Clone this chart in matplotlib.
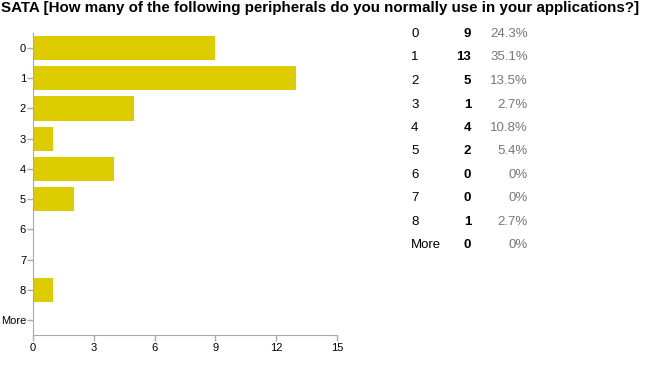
import matplotlib
matplotlib.use("Agg")
import matplotlib.pyplot as plt
import numpy as np

plt.rcParams["font.family"] = ["Liberation Sans", "DejaVu Sans"]

TITLE = "SATA [How many of the following peripherals do you normally use in your applications?]"
categories = ["0", "1", "2", "3", "4", "5", "6", "7", "8", "More"]
counts = [9, 13, 5, 1, 4, 2, 0, 0, 1, 0]
percents = ["24.3%", "35.1%", "13.5%", "2.7%", "10.8%", "5.4%", "0%", "0%", "2.7%", "0%"]
x_ticks = [0, 3, 6, 9, 12, 15]

BAR_COLOR = "#ddcd00"
AXIS_COLOR = "#aaaaaa"

fig = plt.figure(figsize=(6.5, 3.7), dpi=100)
ax = fig.add_axes([33 / 650, 1 - 335 / 370, 304 / 650, 302 / 370])

y = np.arange(len(categories))
ax.barh(y, counts, height=0.8, color=BAR_COLOR)
ax.set_ylim(len(categories) - 0.5, -0.5)
ax.set_xlim(0, 15)
ax.set_yticks(y)
ax.set_yticklabels(categories)
ax.set_xticks(x_ticks)
ax.tick_params(axis="both", colors=AXIS_COLOR, labelcolor="black", labelsize=8,
               length=4, width=1)
ax.tick_params(axis="y", pad=1)
ax.tick_params(axis="x", pad=2)
for side in ["top", "right"]:
    ax.spines[side].set_visible(False)
for side in ["left", "bottom"]:
    ax.spines[side].set_color(AXIS_COLOR)

fig.text(1 / 650, 1 - 8 / 370, TITLE, fontsize=10.9, fontweight="bold",
         ha="left", va="center")

# summary table on the right
for i, (cat, n, pct) in enumerate(zip(categories, counts, percents)):
    yy = 1 - (34 + i * 23.5) / 370
    fig.text(411 / 650, yy, cat, fontsize=9.5, ha="left", va="center")
    fig.text(471 / 650, yy, str(n), fontsize=9.5, fontweight="bold", ha="right", va="center")
    fig.text(528 / 650, yy, pct, fontsize=9.5, color="#777777", ha="right", va="center")

fig.savefig("out.png", dpi=100)
